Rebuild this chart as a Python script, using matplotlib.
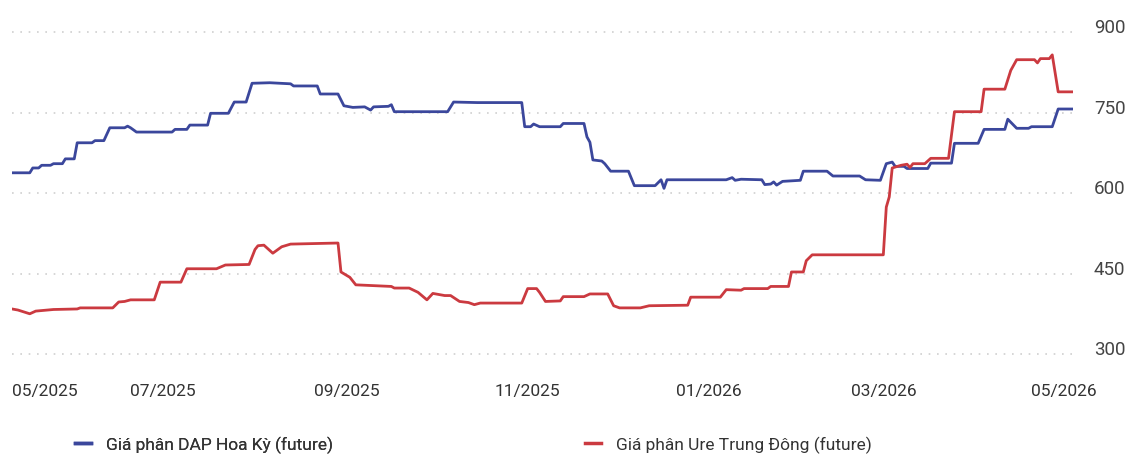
import matplotlib
matplotlib.use('Agg')
import matplotlib.pyplot as plt
from matplotlib.lines import Line2D
import pandas as pd

FONT = ['Liberation Sans Narrow', 'Roboto', 'DejaVu Sans']
plt.rcParams['font.family'] = FONT

COLORS = {
    'dap': '#3B479C',
    'ure': '#CB3A40',
    'grid': '#CFCFCF',
    'text': '#333333',
}

# DAP (blue)
dap_dates = [
    '2025-05-11', '2025-05-17', '2025-05-18', '2025-05-20', '2025-05-21', '2025-05-24',
    '2025-05-25', '2025-05-28', '2025-05-29', '2025-06-01', '2025-06-02', '2025-06-07',
    '2025-06-08', '2025-06-11', '2025-06-13', '2025-06-18', '2025-06-19', '2025-06-20',
    '2025-06-22', '2025-07-04', '2025-07-05', '2025-07-09', '2025-07-10', '2025-07-16',
    '2025-07-17', '2025-07-23', '2025-07-25', '2025-07-29', '2025-07-31', '2025-08-06',
    '2025-08-13', '2025-08-14', '2025-08-22', '2025-08-23', '2025-08-29', '2025-08-31',
    '2025-09-03', '2025-09-07', '2025-09-09', '2025-09-10', '2025-09-15', '2025-09-16',
    '2025-09-17', '2025-10-05', '2025-10-07', '2025-10-15', '2025-10-30', '2025-10-31',
    '2025-11-02', '2025-11-03', '2025-11-05', '2025-11-12', '2025-11-13', '2025-11-20',
    '2025-11-21', '2025-11-22', '2025-11-23', '2025-11-26', '2025-11-27', '2025-11-29',
    '2025-12-05', '2025-12-07', '2025-12-14', '2025-12-16', '2025-12-17', '2025-12-18',
    '2026-01-07', '2026-01-09', '2026-01-10', '2026-01-12', '2026-01-19', '2026-01-20',
    '2026-01-22', '2026-01-23', '2026-01-24', '2026-01-26', '2026-02-01', '2026-02-02',
    '2026-02-10', '2026-02-12', '2026-02-21', '2026-02-23', '2026-02-28', '2026-03-02',
    '2026-03-04', '2026-03-05', '2026-03-08', '2026-03-09', '2026-03-16', '2026-03-17',
    '2026-03-24', '2026-03-25', '2026-04-02', '2026-04-04', '2026-04-11', '2026-04-12',
    '2026-04-15', '2026-04-19', '2026-04-20', '2026-04-27', '2026-04-29', '2026-05-04',
]
dap_values = [
    638, 638, 647, 647, 652, 652,
    655, 655, 664, 664, 694, 694,
    698, 698, 722, 722, 725, 722,
    714, 714, 719, 719, 727, 727,
    749, 749, 770, 770, 805, 806,
    804, 800, 800, 785, 785, 763,
    760, 761, 755, 761, 762, 765,
    752, 752, 770, 769, 769, 724,
    724, 729, 724, 724, 730, 730,
    705, 695, 662, 660, 655, 641,
    641, 614, 614, 625, 609, 625,
    625, 629, 624, 626, 625, 616,
    617, 621, 615, 622, 624, 641,
    641, 632, 632, 625, 624, 655,
    658, 650, 650, 646, 646, 656,
    656, 693, 693, 719, 719, 738,
    721, 721, 724, 724, 757, 757,
]

# Ure (red)
ure_dates = [
    '2025-05-11', '2025-05-13', '2025-05-17', '2025-05-19', '2025-05-25', '2025-06-02',
    '2025-06-03', '2025-06-14', '2025-06-16', '2025-06-18', '2025-06-20', '2025-06-28',
    '2025-06-30', '2025-07-07', '2025-07-09', '2025-07-19', '2025-07-22', '2025-07-30',
    '2025-08-01', '2025-08-02', '2025-08-04', '2025-08-07', '2025-08-10', '2025-08-13',
    '2025-08-29', '2025-08-30', '2025-09-02', '2025-09-04', '2025-09-16', '2025-09-17',
    '2025-09-22', '2025-09-25', '2025-09-28', '2025-09-30', '2025-10-02', '2025-10-04',
    '2025-10-06', '2025-10-09', '2025-10-12', '2025-10-14', '2025-10-16', '2025-10-30',
    '2025-11-01', '2025-11-04', '2025-11-05', '2025-11-07', '2025-11-12', '2025-11-13',
    '2025-11-20', '2025-11-22', '2025-11-28', '2025-11-30', '2025-12-02', '2025-12-09',
    '2025-12-12', '2025-12-25', '2025-12-26', '2026-01-05', '2026-01-07', '2026-01-12',
    '2026-01-13', '2026-01-21', '2026-01-22', '2026-01-28', '2026-01-29', '2026-02-02',
    '2026-02-03', '2026-02-05', '2026-03-01', '2026-03-02', '2026-03-03', '2026-03-04',
    '2026-03-07', '2026-03-09', '2026-03-10', '2026-03-11', '2026-03-15', '2026-03-17',
    '2026-03-23', '2026-03-25', '2026-04-03', '2026-04-04', '2026-04-11', '2026-04-13',
    '2026-04-15', '2026-04-21', '2026-04-22', '2026-04-23', '2026-04-26', '2026-04-27',
    '2026-04-29', '2026-05-04',
]
ure_values = [
    384, 382, 375, 380, 383, 384,
    386, 386, 397, 398, 401, 401,
    434, 434, 459, 459, 466, 467,
    495, 502, 503, 488, 500, 505,
    507, 453, 443, 429, 426, 423,
    423, 415, 401, 413, 411, 409,
    409, 398, 396, 392, 395, 395,
    422, 422, 415, 398, 399, 407,
    407, 412, 412, 390, 386, 386,
    390, 391, 406, 406, 420, 419,
    422, 422, 426, 426, 453, 453,
    474, 485, 485, 574, 593, 647,
    652, 654, 648, 655, 655, 665,
    665, 752, 752, 794, 794, 829,
    849, 849, 843, 851, 851, 858,
    789, 789,
]

tick_dates = ['2025-05-11', '2025-07-01', '2025-09-01', '2025-11-01',
              '2026-01-01', '2026-03-01', '2026-05-01']
tick_labels = ['05/2025', '07/2025', '09/2025', '11/2025', '01/2026', '03/2026', '05/2026']
y_ticks = [300, 450, 600, 750, 900]

dap_x = pd.to_datetime(dap_dates)
ure_x = pd.to_datetime(ure_dates)

fig = plt.figure(figsize=(11.27, 4.56), dpi=100)
ax = fig.add_axes([12 / 1127, 0.1886, 1061 / 1127, 0.7894])

ax.plot(dap_x, dap_values, color=COLORS['dap'], lw=2.0, solid_joinstyle='round')
ax.plot(ure_x, ure_values, color=COLORS['ure'], lw=2.0, solid_joinstyle='round')

ax.set_xlim(pd.Timestamp(dap_dates[0]), pd.Timestamp(dap_dates[-1]))
ax.set_ylim(272, 943.5)

for s in ax.spines.values():
    s.set_visible(False)

ax.set_yticks(y_ticks)
ax.yaxis.tick_right()
ax.tick_params(axis='y', length=0, pad=15, labelsize=13.5, labelcolor='#444444')
for lbl in ax.get_yticklabels():
    lbl.set_verticalalignment('baseline')
ax.yaxis.grid(True, color=COLORS['grid'], linestyle=(0, (1, 4)), linewidth=1.2)
ax.xaxis.grid(False)

ax.set_xticks(pd.to_datetime(tick_dates))
ax.set_xticklabels(tick_labels)
ax.tick_params(axis='x', length=0, pad=10, labelsize=12.5, labelcolor=COLORS['text'])
ax.get_xticklabels()[0].set_horizontalalignment('left')

h1 = Line2D([], [], color=COLORS['dap'], lw=2.5)
h2 = Line2D([], [], color=COLORS['ure'], lw=2.5)
leg_kw = dict(frameon=False, loc='center left', borderpad=0, borderaxespad=0,
              handlelength=0.9, handletextpad=0.9, fontsize=12.5, labelcolor=COLORS['text'])
leg1 = fig.legend([h1], ['Giá phân DAP Hoa Kỳ (future)'],
                  bbox_to_anchor=(75 / 1127, 11 / 456), **leg_kw)
fig.legend([h2], ['Giá phân Ure Trung Đông (future)'],
           bbox_to_anchor=(585 / 1127, 11 / 456), **leg_kw)
fig.add_artist(leg1)

fig.savefig('out.png', dpi=100, facecolor='white')
